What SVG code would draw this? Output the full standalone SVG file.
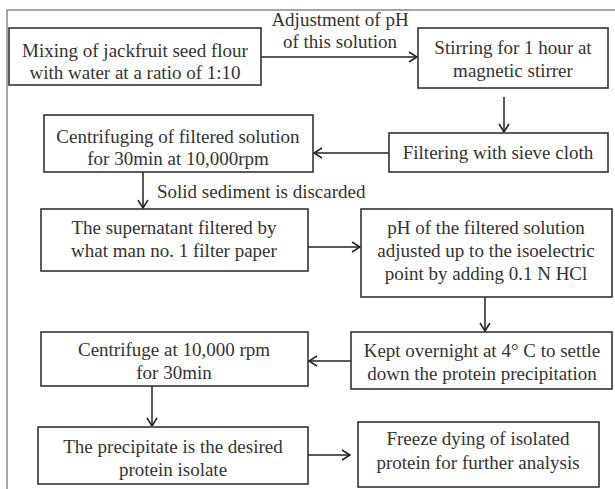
<svg xmlns="http://www.w3.org/2000/svg" width="615" height="489" viewBox="0 0 615 489">
<defs>
<marker id="ah" markerWidth="12" markerHeight="12" refX="10" refY="6" orient="auto" markerUnits="userSpaceOnUse">
<path d="M2,1 L10,6 L2,11" fill="none" stroke="#222" stroke-width="1.5"/>
</marker>
<style>
.box{fill:#fff;stroke:#333;stroke-width:1.6}
text{font-family:'Liberation Serif',serif;font-size:19px;fill:#333}
.t{text-anchor:middle}
.c{fill:none;stroke:#222;stroke-width:1.5;marker-end:url(#ah)}
.frame{fill:none;stroke:#888;stroke-width:1.5}
</style>
</defs>
<rect width="615" height="489" fill="#fff"/>
<path class="frame" d="M7,489 L7,10 L615,10"/>
<g id="connectors">
<line class="c" x1="261" y1="57" x2="417" y2="57"/>
<line class="c" x1="504" y1="97" x2="504" y2="132"/>
<line class="c" x1="389" y1="153" x2="314" y2="153"/>
<line class="c" x1="143" y1="172" x2="143" y2="208"/>
<line class="c" x1="308" y1="247" x2="360" y2="247"/>
<line class="c" x1="485" y1="297" x2="485" y2="331"/>
<line class="c" x1="351" y1="361" x2="309" y2="361"/>
<line class="c" x1="152" y1="386" x2="152" y2="426"/>
<line class="c" x1="308" y1="455" x2="350" y2="455"/>
<text class="t" x="340" y="26">Adjustment of pH</text>
<text class="t" x="340" y="48">of this solution</text>
<text x="157" y="198">Solid sediment is discarded</text>
</g>
<g id="n1"><rect class="box" x="9" y="28" width="252" height="57"/>
<text class="t" x="135" y="57">Mixing of jackfruit seed flour</text>
<text class="t" x="135" y="79">with water at a ratio of 1:10</text></g>
<g id="n2"><rect class="box" x="418" y="28" width="190" height="60"/>
<text class="t" x="513" y="54">Stirring for 1 hour at</text>
<text class="t" x="513" y="77">magnetic stirrer</text></g>
<g id="n3"><rect class="box" x="44" y="115" width="269" height="57"/>
<text class="t" x="178" y="143">Centrifuging of filtered solution</text>
<text class="t" x="178" y="165">for 30min at 10,000rpm</text></g>
<g id="n4"><rect class="box" x="389" y="133" width="219" height="39"/>
<text class="t" x="498" y="159">Filtering with sieve cloth</text></g>
<g id="n5"><rect class="box" x="41" y="209" width="267" height="62"/>
<text class="t" x="174" y="234">The supernatant filtered by</text>
<text class="t" x="174" y="257">what man no. 1 filter paper</text></g>
<g id="n6"><rect class="box" x="361" y="209" width="251" height="88"/>
<text class="t" x="486" y="234">pH of the filtered solution</text>
<text class="t" x="486" y="257">adjusted up to the isoelectric</text>
<text class="t" x="486" y="280">point by adding 0.1 N HCl</text></g>
<g id="n7"><rect class="box" x="351" y="332" width="261" height="57"/>
<text class="t" x="482" y="357">Kept overnight at 4° C to settle</text>
<text class="t" x="482" y="380">down the protein precipitation</text></g>
<g id="n8"><rect class="box" x="41" y="332" width="267" height="54"/>
<text class="t" x="174" y="356">Centrifuge at 10,000 rpm</text>
<text class="t" x="174" y="379">for 30min</text></g>
<g id="n9"><rect class="box" x="38" y="427" width="270" height="57"/>
<text class="t" x="173" y="453">The precipitate is the desired</text>
<text class="t" x="173" y="476">protein isolate</text></g>
<g id="n10"><rect class="box" x="358" y="422" width="241" height="65"/>
<text class="t" x="478" y="445">Freeze dying of isolated</text>
<text class="t" x="478" y="469">protein for further analysis</text></g>
</svg>
